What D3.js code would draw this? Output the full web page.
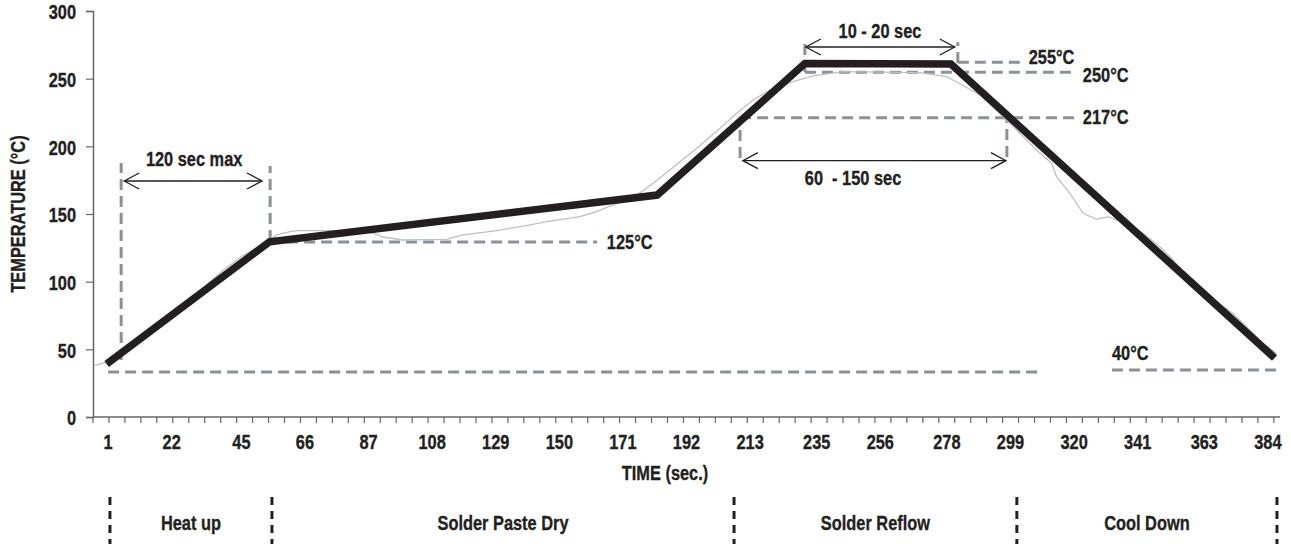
<!DOCTYPE html>
<html>
<head>
<meta charset="utf-8">
<script src="https://cdn.jsdelivr.net/npm/d3@7"></script>
<style>
  body { margin: 0; background: #fff; }
  text { font-family: 'Liberation Sans', Arial, sans-serif; font-weight: bold; fill: #231f20;
         font-size: 21px; stroke: #231f20; stroke-width: 0.35px; }
</style>
</head>
<body>
<svg id="graph"></svg>
<script>
// Profil idéal (ligne noire)
const tempsProfil = [0.5, 54.3, 182.3, 231.1, 279.3, 386.2];
const tempProfil = [39.2, 129.5, 164, 261.2, 260.8, 43.6];

// Profil mesuré (ligne grise)
const tempsMesure = [-3.3, 0, 8, 15, 22, 28, 34.7, 39.1, 45.7, 49, 53.4, 56.7, 61.1, 63.3, 76.5, 88.5, 91.8, 98.4,
  112.8, 118.2, 129.3, 140.3, 145.8, 156.8, 162.3, 167.7, 173.3, 181, 186.5, 195.4, 203.1, 208.6, 214, 219.6,
  227.2, 233.8, 243.7, 269.1, 277.9, 280, 289, 298.8, 307.6, 312.6, 314.2, 318.6, 323, 327.4, 331.2, 334, 338.4,
  342.8, 348.3, 352.2, 355.9, 361, 367, 372.4, 376.9, 382.3, 386.8];
const tempMesure = [38.4, 40.1, 52, 63, 75, 86, 100, 108.6, 119.7, 123.4, 129.5, 134.5, 136.9, 137.7, 137.7, 136, 133, 130.8,
  131.3, 134.5, 137.7, 141.9, 144.3, 148, 151.7, 156.7, 160.3, 172.7, 182.5, 198.6, 213.3, 224.4, 234.2, 241.6,
  247.8, 252, 255.2, 254.4, 251.5, 249, 238, 217, 197.3, 187.5, 177.6, 165.3, 150.5, 146.1, 148, 145.6, 141.9,
  135.7, 125.8, 117.3, 107.4, 96, 85.2, 76.6, 66.7, 54.5, 47.1];

// Graduations
const ticksTemps = [1, 22, 45, 66, 87, 108, 129, 150, 171, 192, 213, 235, 256, 278, 299, 320, 341, 363, 384];
const ticksTemp = [0, 50, 100, 150, 200, 250, 300];
const pasMineur = 5.27;

// Lignes pointillées horizontales (temp, début, fin)
const lignesH = [
  { T: 33.2, t1: 1, t2: 309.5 },
  { T: 34.7, t1: 332.5, t2: 387 },
  { T: 129.3, t1: 54.5, t2: 162.5 },
  { T: 221.2, t1: 209.7, t2: 320 },
  { T: 254.7, t1: 231.1, t2: 320 },
  { T: 262.1, t1: 281.6, t2: 303 }
];
// Lignes pointillées verticales
const lignesV = [
  { t: 5.3, T1: 42.1, T2: 187.7 },
  { t: 54.5, T1: 130, T2: 185.5 },
  { t: 209.7, T1: 191.4, T2: 221.2 },
  { t: 297.8, T1: 192.1, T2: 221.2 },
  { t: 231.1, T1: 255, T2: 276.4 },
  { t: 281.6, T1: 261.6, T2: 277 }
];
// Étiquettes de température
const etiquettes = [
  { texte: "255°C", t: 305, T: 266.5 },
  { texte: "250°C", t: 322.9, T: 253.3 },
  { texte: "217°C", t: 322.9, T: 221.6 },
  { texte: "125°C", t: 165.7, T: 129.3 },
  { texte: "40°C", t: 332.5, T: 47.3 }
];
// Flèches de durée
const fleches = [
  { texte: "120 sec max", t1: 6.3, t2: 51.8, T: 174.4, tl: 29.4, Tl: 190.6 },
  { texte: "10 - 20 sec", t1: 231.4, t2: 280.6, T: 273.4, tl: 255.9, Tl: 285.2 },
  { texte: "60  - 150 sec", t1: 210.6, t2: 297.5, T: 189.4, tl: 247, Tl: 176.6 }
];
// Phases
const phases = ["Heat up", "Solder Paste Dry", "Solder Reflow", "Cool Down"];
const bornesPhases = [1.6, 55.1, 207.7, 301.1, 387];

const largeur = 1291, hauteur = 544;
const svg = d3.select("#graph").attr("width", largeur).attr("height", hauteur);

const x = d3.scaleLinear().domain([-4, 388]).range([93, 1280]);
const y = d3.scaleLinear().domain([0, 300]).range([417, 11]);

const gris = "#8b9198";
const etroit = 0.78; // texte condensé (police étroite)
const place = (px, py) => `translate(${px},${py}) scale(${etroit},1)`;

// Axe Y
const axeY = svg.append("g").attr("transform", `translate(${x(-4)},0)`)
  .call(d3.axisLeft(y).tickValues(ticksTemp).tickSize(7).tickPadding(10));
axeY.attr("font-family", null).attr("font-size", null);
axeY.selectAll("text").attr("x", -17 / etroit).attr("dy", "0.38em").attr("transform", `scale(${etroit},1)`);
axeY.select(".domain").attr("stroke", "#666").attr("stroke-width", 1.5);
axeY.selectAll(".tick line").attr("stroke", "#666").attr("stroke-width", 1.2);

// Axe X : ticks mineurs + étiquettes
const axeX = svg.append("g").attr("transform", `translate(0,${y(0)})`);
axeX.append("line").attr("x1", x(-4)).attr("x2", x(388)).attr("stroke", "#666").attr("stroke-width", 1.5);
axeX.selectAll(".mineur").data(d3.range(-4, 388, pasMineur)).enter().append("line")
  .attr("x1", d => x(d)).attr("x2", d => x(d)).attr("y1", 0).attr("y2", 6)
  .attr("stroke", "#666").attr("stroke-width", 1.2);
axeX.selectAll(".lbl").data(ticksTemps).enter().append("text")
  .attr("transform", d => place(x(d), 25)).attr("dy", "0.35em")
  .attr("text-anchor", "middle").text(d => d);

// Titres des axes
svg.append("text").attr("transform", `translate(18,214) rotate(-90) scale(${etroit},1)`)
  .attr("text-anchor", "middle").attr("dy", "0.35em").text("TEMPERATURE (°C)");
svg.append("text").attr("transform", place(665, 473)).attr("dy", "0.35em")
  .attr("text-anchor", "middle").text("TIME (sec.)");

// Pointillés de repère
svg.selectAll(".lh").data(lignesH).enter().append("line")
  .attr("x1", d => x(d.t1)).attr("x2", d => x(d.t2))
  .attr("y1", d => y(d.T)).attr("y2", d => y(d.T))
  .attr("stroke", gris).attr("stroke-width", 3).attr("stroke-dasharray", "11,6");
svg.selectAll(".lv").data(lignesV).enter().append("line")
  .attr("x1", d => x(d.t)).attr("x2", d => x(d.t))
  .attr("y1", d => y(d.T1)).attr("y2", d => y(d.T2))
  .attr("stroke", gris).attr("stroke-width", 3).attr("stroke-dasharray", "11,6");

// Courbe mesurée
const mesure = tempsMesure.map((t, i) => [t, tempMesure[i]]);
svg.append("path").datum(mesure)
  .attr("d", d3.line().x(d => x(d[0])).y(d => y(d[1])))
  .attr("fill", "none").attr("stroke", "#bcc0c4").attr("stroke-width", 1.3);

// Profil idéal
const profil = tempsProfil.map((t, i) => [t, tempProfil[i]]);
svg.append("path").datum(profil)
  .attr("d", d3.line().x(d => x(d[0])).y(d => y(d[1])))
  .attr("fill", "none").attr("stroke", "#231f20").attr("stroke-width", 7.5)
  .attr("stroke-linejoin", "miter");

// Étiquettes de température
svg.selectAll(".etq").data(etiquettes).enter().append("text")
  .attr("transform", d => place(x(d.t), y(d.T))).attr("dy", "0.35em")
  .text(d => d.texte);

// Flèches double sens
fleches.forEach(f => {
  const x1 = x(f.t1), x2 = x(f.t2), yy = y(f.T);
  const g = svg.append("g").attr("stroke", "#231f20").attr("stroke-width", 1.3).attr("fill", "none");
  g.append("line").attr("x1", x1).attr("x2", x2).attr("y1", yy).attr("y2", yy);
  g.append("path").attr("d", `M${x1 + 15},${yy - 8}L${x1},${yy}L${x1 + 15},${yy + 8}`);
  g.append("path").attr("d", `M${x2 - 15},${yy - 8}L${x2},${yy}L${x2 - 15},${yy + 8}`);
  svg.append("text").attr("transform", place(x(f.tl), y(f.Tl))).attr("dy", "0.35em")
    .attr("text-anchor", "middle").style("white-space", "pre")
    .text(f.texte);
});

// Phases en bas
svg.selectAll(".borne").data(bornesPhases).enter().append("line")
  .attr("x1", d => x(d)).attr("x2", d => x(d)).attr("y1", 497).attr("y2", 544)
  .attr("stroke", "#231f20").attr("stroke-width", 3).attr("stroke-dasharray", "8,6");
svg.selectAll(".phase").data(phases).enter().append("text")
  .attr("transform", (d, i) => place(x((bornesPhases[i] + bornesPhases[i + 1]) / 2), 523)).attr("dy", "0.35em")
  .attr("text-anchor", "middle").text(d => d);
</script>
</body>
</html>
